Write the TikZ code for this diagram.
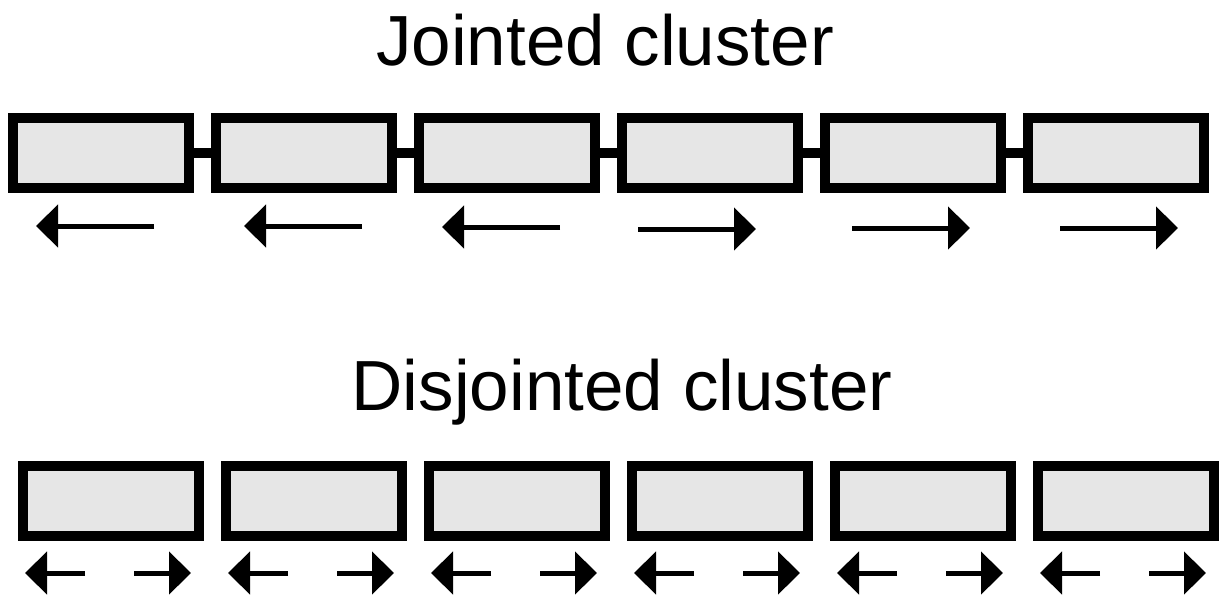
\documentclass[tikz,border=0pt]{standalone}
\usepackage{fontspec}
\setmainfont{Liberation Sans}
\usetikzlibrary{arrows.meta}
\definecolor{boxfill}{HTML}{E6E6E6}
\tikzset{
  cell/.style={draw=black, fill=boxfill, line width=10pt, rectangle, inner sep=0pt,
    minimum width=176pt, minimum height=70pt},
  joint/.style={draw=black, line width=10pt},
  motion/.style={draw=black, line width=5pt, -{Triangle[length=22pt,width=42pt]}},
  title/.style={font=\fontsize{71}{84}\selectfont, anchor=base, inner sep=0pt}
}
\begin{document}
\begin{tikzpicture}[x=1pt,y=-1pt]
\useasboundingbox (0,0) rectangle (1225,600);
\node[title] (jt) at (605,65) {Jointed cluster};
\node[title] (dt) at (622,410) {Disjointed cluster};
% jointed row
\foreach \i in {1,...,6}{
  \node[cell] (t\i) at ({101+203*(\i-1)},153) {};
}
\foreach \i/\j in {1/2,2/3,3/4,4/5,5/6}{
  \draw[joint] (t\i.east) -- (t\j.west);
}
% arrows of jointed row (tail, tip)
\foreach \i/\a/\b/\y in {1/154/36/226,2/362/244/226,3/560/442/227,4/638/756/229,5/852/970/228,6/1060/1178/228}{
  \coordinate (js\i) at (\a,\y);
  \coordinate (je\i) at (\b,\y);
  \draw[motion] (js\i) -- (je\i);
}
% disjointed row
\foreach \i in {1,...,6}{
  \node[cell] (b\i) at ({111+203*(\i-1)},501) {};
  \coordinate (bls\i) at ({111+203*(\i-1)-26},573);
  \coordinate (ble\i) at ({111+203*(\i-1)-86},573);
  \coordinate (brs\i) at ({111+203*(\i-1)+23},573);
  \coordinate (bre\i) at ({111+203*(\i-1)+80},573);
  \draw[motion] (bls\i) -- (ble\i);
  \draw[motion] (brs\i) -- (bre\i);
}
\end{tikzpicture}
\end{document}
